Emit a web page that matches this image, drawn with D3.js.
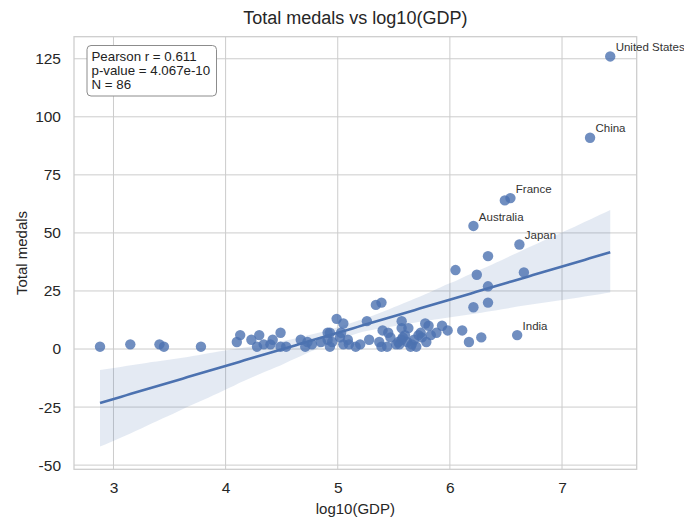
<!DOCTYPE html>
<html>
<head>
<meta charset="utf-8">
<script src="https://cdn.jsdelivr.net/npm/d3@7"></script>
<style>
  html, body { margin: 0; padding: 0; background: #fff; }
  svg text { font-family: "Liberation Sans", Arial, Helvetica, sans-serif; fill: #262626; }
</style>
</head>
<body>
<svg id="chart" width="684" height="518"></svg>
<script>
// log10(GDP) per country
const logGdp = [
  2.88, 3.15, 3.41, 3.45, 3.78, 4.10, 4.13, 4.23, 4.28, 4.30,
  4.34, 4.40, 4.42, 4.49, 4.49, 4.54, 4.67, 4.71, 4.73, 4.77,
  4.85, 4.91, 4.93, 4.91, 4.93, 4.99, 5.05, 5.03, 5.05, 5.09,
  5.10, 5.16, 5.20, 5.26, 5.28, 5.34, 5.39, 5.37, 5.39, 5.40,
  5.45, 5.44, 5.54, 5.55, 5.57, 5.57, 5.63, 5.57, 5.60, 5.66,
  5.70, 5.72, 5.74, 5.78, 5.81, 5.79, 5.88, 5.93, 5.98, 6.05,
  6.11, 6.17, 6.21, 6.21, 6.24, 6.28, 6.34, 6.34, 6.34, 6.49,
  6.54, 6.60, 6.62, 6.66, 7.25, 7.43,
  5.58, 5.62, 5.68, 5.75, 5.52, 5.47, 5.02, 4.95, 5.65, 5.83
];
// total medals per country
const medals = [
  1, 2, 2, 1, 1, 3, 6, 4, 1, 6,
  2, 2, 4, 7, 1, 1, 4, 1, 3, 2,
  3, 7, 7, 4, 1, 13, 11, 7, 2, 4,
  2, 1, 2, 12, 4, 19, 20, 3, 1, 8,
  7, 1, 3, 2, 12, 9, 9, 4, 6, 2,
  1, 6, 7, 11, 10, 3, 7, 10, 8, 34,
  8, 3, 18, 53, 32, 5, 40, 27, 20, 64,
  65, 6, 45, 33, 91, 126,
  5, 3, 4, 5, 2, 5, 5, 3, 1, 6
];
// labelled countries: index into the arrays above
const labelNames = ["United States", "China", "France", "Australia", "Japan", "India"];
const labelIndex = [75, 74, 70, 63, 72, 71];

const statsLines = ["Pearson r = 0.611", "p-value = 4.067e-10", "N = 86"];
const xTicks = [3, 4, 5, 6, 7];
const yTicks = [-50, -25, 0, 25, 50, 75, 100, 125];

const W = 684, H = 518;
const m = { left: 74, right: 47.3, top: 36.7, bottom: 48.7 };
const svg = d3.select("#chart");

const x = d3.scaleLinear().domain([2.648, 7.666]).range([m.left, W - m.right]);
const y = d3.scaleLinear().domain([-51.8, 134.5]).range([H - m.bottom, m.top]);

const blue = "#4c72b0";
const grid = "#cccccc";

// gridlines
svg.append("g").selectAll("line").data(xTicks).join("line")
  .attr("x1", d => x(d)).attr("x2", d => x(d))
  .attr("y1", m.top).attr("y2", H - m.bottom)
  .attr("stroke", grid).attr("stroke-width", 1);
svg.append("g").selectAll("line").data(yTicks).join("line")
  .attr("x1", m.left).attr("x2", W - m.right)
  .attr("y1", d => y(d)).attr("y2", d => y(d))
  .attr("stroke", grid).attr("stroke-width", 1);

// least squares fit
function fitLine(xs, ys) {
  const mx = d3.mean(xs), my = d3.mean(ys);
  let sxx = 0, sxy = 0;
  for (let i = 0; i < xs.length; i++) {
    sxx += (xs[i] - mx) ** 2;
    sxy += (xs[i] - mx) * (ys[i] - my);
  }
  const b = sxy / sxx;
  return [my - b * mx, b];
}

const n = logGdp.length;
const [a0, b0] = fitLine(logGdp, medals);
const [xmin, xmax] = d3.extent(logGdp);
const grid100 = d3.range(0, 100).map(k => xmin + (xmax - xmin) * k / 99);

// 95% band from 1000 bootstrap resamples (seeded generator, repeatable)
function mulberry32(seed) {
  return function () {
    seed |= 0; seed = (seed + 0x6D2B79F5) | 0;
    let t = Math.imul(seed ^ (seed >>> 15), 1 | seed);
    t = (t + Math.imul(t ^ (t >>> 7), 61 | t)) ^ t;
    return ((t ^ (t >>> 14)) >>> 0) / 4294967296;
  };
}
const rng = mulberry32(12345);
const boots = grid100.map(() => []);
for (let r = 0; r < 1000; r++) {
  const xs = [], ys = [];
  for (let i = 0; i < n; i++) {
    const j = Math.floor(rng() * n);
    xs.push(logGdp[j]); ys.push(medals[j]);
  }
  const [a, b] = fitLine(xs, ys);
  grid100.forEach((v, k) => boots[k].push(a + b * v));
}
const fit = grid100.map((v, k) => {
  const sorted = boots[k].sort(d3.ascending);
  return {
    x: v, y: a0 + b0 * v,
    lo: d3.quantileSorted(sorted, 0.025),
    hi: d3.quantileSorted(sorted, 0.975)
  };
});

const plot = svg.append("g");
plot.append("path").datum(fit)
  .attr("d", d3.area().x(d => x(d.x)).y0(d => y(d.lo)).y1(d => y(d.hi)))
  .attr("fill", blue).attr("fill-opacity", 0.15);

// points
plot.append("g").selectAll("circle").data(d3.range(n)).join("circle")
  .attr("cx", i => x(logGdp[i])).attr("cy", i => y(medals[i]))
  .attr("r", 5.2).attr("fill", blue).attr("fill-opacity", 0.8);

plot.append("path").datum(fit)
  .attr("d", d3.line().x(d => x(d.x)).y(d => y(d.y)))
  .attr("fill", "none").attr("stroke", blue).attr("stroke-width", 2.6);

// frame
svg.append("rect")
  .attr("x", m.left).attr("y", m.top)
  .attr("width", W - m.left - m.right).attr("height", H - m.top - m.bottom)
  .attr("fill", "none").attr("stroke", grid).attr("stroke-width", 1.25);

// country labels
svg.append("g").selectAll("text").data(labelIndex).join("text")
  .attr("x", (i) => x(logGdp[i]) + 5.4)
  .attr("y", (i) => y(medals[i]) - 5.4)
  .attr("font-size", 11.5).style("fill", "#333")
  .text((i, k) => labelNames[k]);

// axes
const plainInt = d => String(d);
const xAxis = svg.append("g").attr("transform", `translate(0,${H - m.bottom})`)
  .call(d3.axisBottom(x).tickValues(xTicks).tickSize(0).tickPadding(13).tickFormat(plainInt));
xAxis.select(".domain").remove();
xAxis.selectAll("text").attr("font-size", 15.5).style("font-family", null);

const yAxis = svg.append("g").attr("transform", `translate(${m.left},0)`)
  .call(d3.axisLeft(y).tickValues(yTicks).tickSize(0).tickPadding(13).tickFormat(plainInt));
yAxis.select(".domain").remove();
yAxis.selectAll("text").attr("font-size", 15.5).style("font-family", null);

svg.append("text").attr("x", (m.left + W - m.right) / 2).attr("y", 514)
  .attr("text-anchor", "middle").attr("font-size", 15).text("log10(GDP)");
svg.append("text").attr("transform", `translate(27,${(m.top + H - m.bottom) / 2}) rotate(-90)`)
  .attr("text-anchor", "middle").attr("font-size", 15).text("Total medals");
svg.append("text").attr("x", (m.left + W - m.right) / 2).attr("y", 24)
  .attr("text-anchor", "middle").attr("font-size", 18).text("Total medals vs log10(GDP)");

// statistics box
const box = svg.append("g");
box.append("rect").attr("x", 87).attr("y", 45.5).attr("width", 129.5).attr("height", 50.5)
  .attr("rx", 4).attr("fill", "#fff").attr("stroke", "#8c8c8c").attr("stroke-width", 1);
box.selectAll("text").data(statsLines).join("text")
  .attr("x", 91.5).attr("y", (d, i) => 60.5 + i * 14.2)
  .attr("font-size", 13.3).style("fill", "#222").text(d => d);
</script>
</body>
</html>
